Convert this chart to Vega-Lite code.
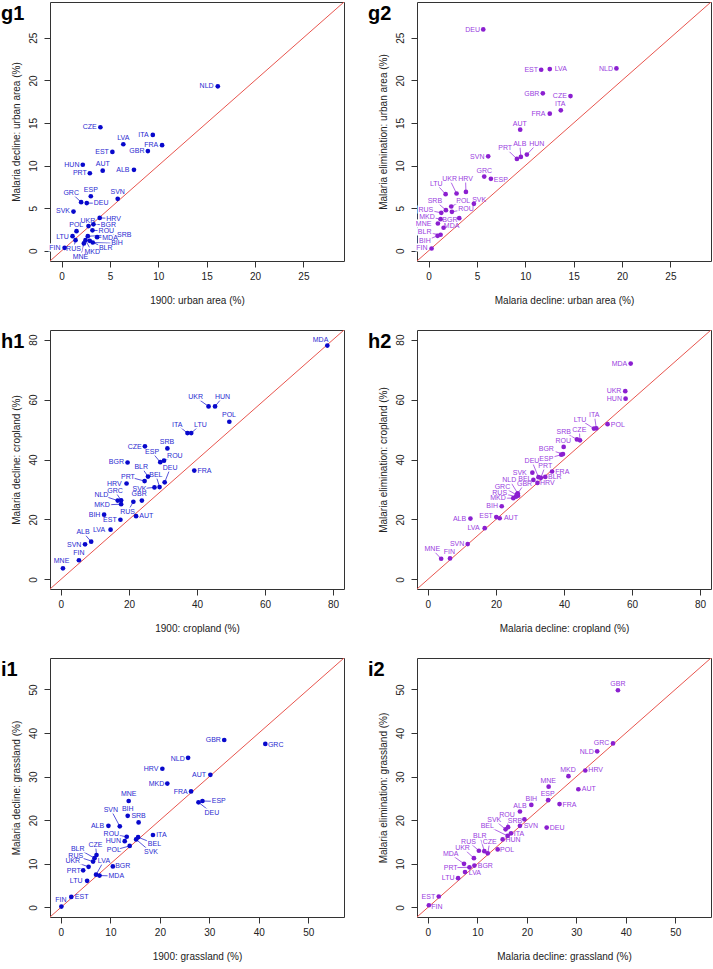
{
"$schema":"https://vega.github.io/schema/vega-lite/v6.json",
"padding":{"left":0,"top":1,"right":0,"bottom":0},
"autosize":{"type":"pad"},
"columns":2,
"spacing":{"row":23,"column":22},
"config":{
 "font":"Liberation Sans",
 "view":{"stroke":"#333","strokeWidth":1},
 "axis":{"grid":false,"domain":false,"tickColor":"#333","tickSize":6,"labelFontSize":10,"labelColor":"#222","titleFontSize":10,"titleFontWeight":"normal","titleColor":"#222","labelFont":"Liberation Sans","titleFont":"Liberation Sans"},
 "axisX":{"labelPadding":4,"titlePadding":14},
 "axisY":{"labelAngle":-90,"labelAlign":"center","labelBaseline":"bottom","labelPadding":6,"titlePadding":7},
 "title":{"fontSize":20,"fontWeight":"bold","anchor":"start","frame":"group","dx":-49,"offset":-22,"baseline":"bottom","color":"#000","font":"Liberation Sans"}
},
"datasets":{
"diag":[{"d":-10},{"d":100}],
"g1":[
{"c":"NLD","x":16.15,"y":19.3,"lx":14.99,"ly":19.31,"k":0},
{"c":"CZE","x":4.01,"y":14.5,"lx":2.91,"ly":14.52,"k":0},
{"c":"ITA","x":9.43,"y":13.6,"lx":8.47,"ly":13.63,"k":0},
{"c":"LVA","x":6.38,"y":12.5,"lx":6.38,"ly":13.2,"k":0},
{"c":"FRA","x":10.39,"y":12.4,"lx":9.26,"ly":12.42,"k":0},
{"c":"GBR","x":8.92,"y":11.7,"lx":7.78,"ly":11.68,"k":0},
{"c":"EST","x":5.25,"y":11.6,"lx":4.18,"ly":11.57,"k":0},
{"c":"HUN","x":2.19,"y":10.1,"lx":1.06,"ly":10.09,"k":0},
{"c":"AUT","x":4.25,"y":9.4,"lx":4.25,"ly":10.2,"k":0},
{"c":"PRT","x":2.92,"y":9.1,"lx":1.89,"ly":9.11,"k":0},
{"c":"ALB","x":7.48,"y":9.5,"lx":6.34,"ly":9.46,"k":0},
{"c":"ESP","x":3.02,"y":6.4,"lx":3.02,"ly":7.17,"k":0},
{"c":"SVN","x":5.8,"y":6.1,"lx":5.8,"ly":6.85,"k":0},
{"c":"GRC","x":2.02,"y":5.7,"lx":0.99,"ly":6.81,"k":1},
{"c":"DEU","x":2.6,"y":5.6,"lx":4.08,"ly":5.57,"k":1},
{"c":"SVK","x":1.23,"y":4.6,"lx":0.14,"ly":4.63,"k":0},
{"c":"HRV","x":3.94,"y":3.86,"lx":5.38,"ly":3.78,"k":1},
{"c":"BGR","x":3.29,"y":3.1,"lx":4.84,"ly":3.04,"k":1},
{"c":"UKR","x":2.78,"y":2.9,"lx":2.71,"ly":3.54,"k":0},
{"c":"POL","x":1.54,"y":2.3,"lx":1.51,"ly":3.04,"k":0},
{"c":"ROU","x":3.19,"y":2.4,"lx":4.63,"ly":2.34,"k":1},
{"c":"LTU","x":1.13,"y":1.71,"lx":0.1,"ly":1.67,"k":0},
{"c":"SRB","x":2.71,"y":1.71,"lx":6.48,"ly":1.91,"k":1},
{"c":"MDA","x":3.67,"y":1.6,"lx":5.01,"ly":1.52,"k":1},
{"c":"RUS","x":1.44,"y":1.25,"lx":1.23,"ly":0.23,"k":1},
{"c":"MKD","x":2.47,"y":1.25,"lx":3.16,"ly":-0.19,"k":1},
{"c":"BLR","x":2.91,"y":1.17,"lx":4.56,"ly":0.27,"k":1},
{"c":"BIH","x":3.22,"y":0.97,"lx":5.73,"ly":0.86,"k":1},
{"c":"MNE","x":2.3,"y":0.86,"lx":1.95,"ly":-0.7,"k":1},
{"c":"FIN","x":0.31,"y":0.35,"lx":-0.69,"ly":0.27,"k":0}
],
"g2":[
{"c":"DEU","x":5.65,"y":25.98,"lx":4.55,"ly":25.94,"k":0},
{"c":"EST","x":11.64,"y":21.25,"lx":10.61,"ly":21.17,"k":0},
{"c":"LVA","x":12.53,"y":21.33,"lx":13.67,"ly":21.29,"k":0},
{"c":"NLD","x":19.42,"y":21.4,"lx":18.35,"ly":21.37,"k":0},
{"c":"GBR","x":11.81,"y":18.48,"lx":10.67,"ly":18.44,"k":0},
{"c":"CZE","x":14.67,"y":18.16,"lx":13.57,"ly":18.13,"k":0},
{"c":"ITA","x":13.67,"y":16.48,"lx":13.6,"ly":17.19,"k":0},
{"c":"FRA","x":12.53,"y":16.09,"lx":11.36,"ly":16.05,"k":0},
{"c":"AUT","x":9.47,"y":14.22,"lx":9.43,"ly":14.92,"k":0},
{"c":"PRT","x":9.13,"y":10.78,"lx":7.92,"ly":12.11,"k":1},
{"c":"ALB","x":9.54,"y":11.02,"lx":9.43,"ly":12.5,"k":1},
{"c":"HUN","x":10.16,"y":11.29,"lx":11.19,"ly":12.54,"k":1},
{"c":"SVN","x":6.16,"y":11.09,"lx":5.03,"ly":11.05,"k":0},
{"c":"GRC","x":5.75,"y":8.71,"lx":5.75,"ly":9.41,"k":0},
{"c":"ESP","x":6.44,"y":8.44,"lx":7.47,"ly":8.36,"k":0},
{"c":"LTU","x":1.76,"y":6.64,"lx":0.79,"ly":7.85,"k":1},
{"c":"UKR","x":2.89,"y":6.72,"lx":2.17,"ly":8.4,"k":1},
{"c":"HRV","x":3.86,"y":6.91,"lx":3.82,"ly":8.4,"k":1},
{"c":"SRB","x":1.79,"y":4.77,"lx":0.65,"ly":5.9,"k":1},
{"c":"POL","x":2.34,"y":5.2,"lx":3.58,"ly":5.9,"k":1},
{"c":"SVK","x":4.68,"y":5.51,"lx":5.23,"ly":5.94,"k":1},
{"c":"RUS","x":1.31,"y":4.45,"lx":-0.28,"ly":4.84,"k":1},
{"c":"ROU","x":2.41,"y":4.57,"lx":3.86,"ly":4.88,"k":1},
{"c":"MKD","x":1.24,"y":3.71,"lx":-0.17,"ly":4.02,"k":1},
{"c":"BGR","x":3.17,"y":3.83,"lx":2.2,"ly":3.67,"k":0},
{"c":"MNE","x":0.96,"y":3.2,"lx":-0.52,"ly":3.2,"k":0},
{"c":"MDA","x":1.55,"y":2.7,"lx":2.38,"ly":2.89,"k":0},
{"c":"BLR","x":1.24,"y":1.88,"lx":-0.41,"ly":2.15,"k":1},
{"c":"BIH","x":0.93,"y":1.76,"lx":-0.38,"ly":1.17,"k":1},
{"c":"FIN","x":0.31,"y":0.27,"lx":-0.69,"ly":0.27,"k":0}
],
"h1":[
{"c":"UKR","x":43.4,"y":57.7,"lx":39.6,"ly":60.8,"k":1},
{"c":"HUN","x":45.3,"y":57.7,"lx":47.5,"ly":60.8,"k":1},
{"c":"POL","x":49.5,"y":52.6,"lx":49.4,"ly":54.7,"k":0},
{"c":"ITA","x":37.2,"y":48.8,"lx":34.2,"ly":51.6,"k":1},
{"c":"LTU","x":38.3,"y":48.8,"lx":41.0,"ly":51.6,"k":1},
{"c":"CZE","x":24.7,"y":44.4,"lx":21.7,"ly":44.3,"k":0},
{"c":"SRB","x":31.3,"y":43.7,"lx":31.2,"ly":45.8,"k":0},
{"c":"ESP","x":29.2,"y":39.1,"lx":26.8,"ly":42.4,"k":1},
{"c":"ROU","x":30.3,"y":39.6,"lx":33.5,"ly":41.3,"k":1},
{"c":"BGR","x":19.6,"y":39.0,"lx":16.3,"ly":39.0,"k":0},
{"c":"FRA","x":39.2,"y":36.3,"lx":42.2,"ly":36.1,"k":0},
{"c":"BLR","x":25.6,"y":34.3,"lx":23.6,"ly":37.6,"k":1},
{"c":"PRT","x":24.6,"y":32.8,"lx":19.7,"ly":34.3,"k":1},
{"c":"DEU","x":30.5,"y":32.4,"lx":32.1,"ly":37.0,"k":1},
{"c":"BEL","x":29.0,"y":30.8,"lx":27.9,"ly":34.9,"k":1},
{"c":"SVK","x":27.5,"y":30.7,"lx":23.1,"ly":30.2,"k":1},
{"c":"HRV","x":19.3,"y":32.0,"lx":15.7,"ly":31.9,"k":0},
{"c":"NLD","x":16.7,"y":26.3,"lx":11.9,"ly":28.1,"k":1},
{"c":"GRC","x":17.7,"y":26.4,"lx":15.9,"ly":29.4,"k":1},
{"c":"MKD","x":17.7,"y":25.1,"lx":12.1,"ly":24.8,"k":1},
{"c":"GBR","x":23.8,"y":26.3,"lx":23.0,"ly":28.6,"k":0},
{"c":"RUS","x":21.3,"y":25.9,"lx":19.6,"ly":22.6,"k":1},
{"c":"BIH","x":12.7,"y":21.6,"lx":9.9,"ly":21.6,"k":0},
{"c":"AUT","x":22.1,"y":21.1,"lx":25.1,"ly":21.1,"k":0},
{"c":"EST","x":17.5,"y":19.9,"lx":14.4,"ly":19.9,"k":0},
{"c":"LVA","x":14.6,"y":16.6,"lx":11.2,"ly":16.4,"k":0},
{"c":"ALB","x":8.9,"y":12.6,"lx":6.5,"ly":15.7,"k":1},
{"c":"SVN","x":7.1,"y":11.7,"lx":3.9,"ly":11.4,"k":0},
{"c":"FIN","x":5.3,"y":6.4,"lx":5.3,"ly":8.8,"k":0},
{"c":"MNE","x":0.6,"y":3.7,"lx":0.2,"ly":6.0,"k":0},
{"c":"MDA","x":78.3,"y":78.0,"lx":76.3,"ly":80.0,"k":0}
],
"h2":[
{"c":"MDA","x":59.6,"y":72.0,"lx":56.3,"ly":72.0,"k":0},
{"c":"UKR","x":58.0,"y":62.8,"lx":54.7,"ly":62.8,"k":0},
{"c":"HUN","x":58.1,"y":60.3,"lx":54.8,"ly":60.3,"k":0},
{"c":"ITA","x":49.5,"y":50.4,"lx":48.9,"ly":55.0,"k":1},
{"c":"LTU","x":48.8,"y":50.3,"lx":44.7,"ly":53.3,"k":1},
{"c":"POL","x":52.8,"y":51.8,"lx":55.8,"ly":51.6,"k":0},
{"c":"SRB","x":43.8,"y":46.7,"lx":39.9,"ly":49.2,"k":1},
{"c":"CZE","x":44.7,"y":46.4,"lx":44.5,"ly":49.8,"k":1},
{"c":"ROU","x":39.9,"y":44.2,"lx":39.8,"ly":46.1,"k":0},
{"c":"BGR","x":39.7,"y":41.8,"lx":34.8,"ly":43.6,"k":1},
{"c":"ESP","x":39.2,"y":41.6,"lx":34.8,"ly":40.2,"k":1},
{"c":"DEU","x":32.5,"y":34.1,"lx":30.6,"ly":39.4,"k":1},
{"c":"PRT","x":33.2,"y":33.9,"lx":34.5,"ly":37.9,"k":1},
{"c":"SVK","x":30.7,"y":35.6,"lx":27.0,"ly":35.6,"k":0},
{"c":"FRA","x":36.5,"y":36.0,"lx":39.5,"ly":35.9,"k":0},
{"c":"BEL","x":31.0,"y":33.2,"lx":28.5,"ly":33.6,"k":0},
{"c":"BLR","x":34.5,"y":34.2,"lx":37.3,"ly":34.3,"k":0},
{"c":"NLD","x":26.4,"y":28.7,"lx":23.9,"ly":33.3,"k":1},
{"c":"GBR","x":26.2,"y":28.4,"lx":28.4,"ly":31.9,"k":1},
{"c":"HRV","x":32.2,"y":32.2,"lx":35.1,"ly":32.0,"k":0},
{"c":"GRC","x":26.5,"y":27.9,"lx":21.9,"ly":30.9,"k":1},
{"c":"RUS","x":25.9,"y":27.6,"lx":21.1,"ly":28.9,"k":1},
{"c":"MKD","x":25.1,"y":27.1,"lx":20.6,"ly":27.1,"k":1},
{"c":"BIH","x":21.7,"y":24.4,"lx":18.9,"ly":24.4,"k":0},
{"c":"EST","x":20.1,"y":20.8,"lx":17.1,"ly":21.0,"k":0},
{"c":"AUT","x":21.1,"y":20.4,"lx":24.4,"ly":20.4,"k":0},
{"c":"ALB","x":12.5,"y":20.3,"lx":9.3,"ly":20.1,"k":0},
{"c":"LVA","x":16.7,"y":17.1,"lx":13.4,"ly":17.0,"k":0},
{"c":"SVN","x":11.7,"y":11.8,"lx":8.6,"ly":11.9,"k":0},
{"c":"MNE","x":3.9,"y":6.9,"lx":1.3,"ly":10.0,"k":1},
{"c":"FIN","x":6.5,"y":7.0,"lx":6.3,"ly":9.2,"k":0}
],
"i1":[
{"c":"GBR","x":33.0,"y":38.4,"lx":30.8,"ly":38.3,"k":0},
{"c":"GRC","x":41.3,"y":37.5,"lx":43.4,"ly":37.3,"k":0},
{"c":"NLD","x":25.7,"y":34.3,"lx":23.6,"ly":34.1,"k":0},
{"c":"HRV","x":20.5,"y":31.8,"lx":18.2,"ly":31.7,"k":0},
{"c":"AUT","x":30.2,"y":30.4,"lx":27.9,"ly":30.3,"k":0},
{"c":"MKD","x":21.5,"y":28.4,"lx":19.3,"ly":28.4,"k":0},
{"c":"FRA","x":26.3,"y":26.6,"lx":24.2,"ly":26.5,"k":0},
{"c":"ESP","x":28.6,"y":24.4,"lx":31.9,"ly":24.3,"k":1},
{"c":"DEU","x":27.8,"y":24.1,"lx":30.5,"ly":21.7,"k":1},
{"c":"MNE","x":13.7,"y":24.4,"lx":13.7,"ly":25.9,"k":0},
{"c":"BIH","x":13.5,"y":21.0,"lx":13.5,"ly":22.5,"k":0},
{"c":"SRB","x":15.7,"y":19.5,"lx":15.7,"ly":20.9,"k":0},
{"c":"ALB","x":9.6,"y":18.7,"lx":7.4,"ly":18.7,"k":0},
{"c":"SVN","x":11.9,"y":18.6,"lx":10.1,"ly":22.4,"k":1},
{"c":"ITA","x":18.6,"y":16.6,"lx":20.3,"ly":16.6,"k":0},
{"c":"ROU","x":13.3,"y":16.2,"lx":10.2,"ly":16.8,"k":1},
{"c":"HUN","x":12.9,"y":15.2,"lx":10.6,"ly":15.2,"k":0},
{"c":"BEL","x":15.6,"y":16.1,"lx":18.9,"ly":14.6,"k":1},
{"c":"SVK","x":15.2,"y":15.6,"lx":18.2,"ly":12.7,"k":1},
{"c":"POL","x":13.9,"y":14.1,"lx":10.7,"ly":13.1,"k":1},
{"c":"CZE","x":7.2,"y":12.0,"lx":7.0,"ly":14.4,"k":1},
{"c":"BLR","x":6.8,"y":11.3,"lx":3.4,"ly":13.5,"k":1},
{"c":"RUS","x":6.5,"y":10.5,"lx":3.0,"ly":11.8,"k":1},
{"c":"UKR","x":5.6,"y":9.3,"lx":2.4,"ly":10.6,"k":1},
{"c":"BGR","x":10.5,"y":9.4,"lx":12.5,"ly":9.5,"k":0},
{"c":"PRT","x":4.5,"y":8.5,"lx":2.6,"ly":8.4,"k":0},
{"c":"LVA","x":7.1,"y":7.5,"lx":8.7,"ly":10.7,"k":1},
{"c":"MDA","x":7.8,"y":7.3,"lx":11.2,"ly":7.2,"k":1},
{"c":"LTU","x":5.3,"y":6.1,"lx":3.1,"ly":6.0,"k":0},
{"c":"EST","x":2.1,"y":2.4,"lx":4.2,"ly":2.3,"k":0},
{"c":"FIN","x":0.1,"y":0.2,"lx":0.0,"ly":1.7,"k":0}
],
"i2":[
{"c":"GBR","x":38.4,"y":49.8,"lx":38.4,"ly":51.2,"k":0},
{"c":"GRC","x":37.4,"y":37.6,"lx":35.1,"ly":37.6,"k":0},
{"c":"NLD","x":34.2,"y":35.8,"lx":32.1,"ly":35.7,"k":0},
{"c":"HRV","x":31.8,"y":31.4,"lx":33.9,"ly":31.4,"k":0},
{"c":"MKD","x":28.4,"y":30.1,"lx":28.3,"ly":31.6,"k":0},
{"c":"AUT","x":30.4,"y":27.1,"lx":32.5,"ly":27.1,"k":0},
{"c":"MNE","x":24.4,"y":27.7,"lx":24.3,"ly":28.9,"k":0},
{"c":"ESP","x":24.3,"y":24.6,"lx":24.2,"ly":26.0,"k":0},
{"c":"FRA","x":26.6,"y":23.7,"lx":28.6,"ly":23.6,"k":0},
{"c":"BIH","x":20.9,"y":23.5,"lx":20.9,"ly":24.9,"k":0},
{"c":"ALB","x":18.6,"y":22.0,"lx":18.6,"ly":23.3,"k":0},
{"c":"ROU","x":16.2,"y":18.4,"lx":16.0,"ly":21.3,"k":1},
{"c":"SRB","x":19.5,"y":20.2,"lx":17.6,"ly":19.9,"k":1},
{"c":"SVN","x":18.6,"y":18.7,"lx":20.8,"ly":18.6,"k":0},
{"c":"DEU","x":24.0,"y":18.3,"lx":26.1,"ly":18.3,"k":0},
{"c":"SVK","x":15.7,"y":17.9,"lx":13.4,"ly":20.1,"k":1},
{"c":"BEL","x":16.1,"y":16.4,"lx":12.0,"ly":18.7,"k":1},
{"c":"ITA","x":16.8,"y":17.0,"lx":18.4,"ly":16.9,"k":0},
{"c":"HUN","x":15.1,"y":15.6,"lx":17.2,"ly":15.5,"k":0},
{"c":"POL","x":14.1,"y":13.3,"lx":16.0,"ly":13.2,"k":0},
{"c":"BLR","x":11.4,"y":12.9,"lx":10.5,"ly":16.4,"k":1},
{"c":"RUS","x":10.3,"y":13.0,"lx":8.2,"ly":15.1,"k":1},
{"c":"CZE","x":12.1,"y":12.4,"lx":12.5,"ly":15.1,"k":1},
{"c":"UKR","x":9.3,"y":11.3,"lx":7.0,"ly":13.7,"k":1},
{"c":"MDA","x":7.3,"y":10.0,"lx":4.6,"ly":12.2,"k":1},
{"c":"PRT","x":8.4,"y":9.2,"lx":4.6,"ly":9.1,"k":1},
{"c":"BGR","x":9.4,"y":9.6,"lx":11.6,"ly":9.4,"k":0},
{"c":"LVA","x":7.5,"y":8.1,"lx":9.5,"ly":8.0,"k":0},
{"c":"LTU","x":6.1,"y":6.7,"lx":4.1,"ly":6.7,"k":0},
{"c":"EST","x":2.2,"y":2.5,"lx":0.1,"ly":2.5,"k":0},
{"c":"FIN","x":0.2,"y":0.5,"lx":1.8,"ly":0.2,"k":0}
]
},
"concat":[
{"title":"g1","width":294,"height":259,"data":{"name":"g1"},
 "layer":[
 {"transform":[{"filter":"datum.k==1"}],"mark":{"type":"rule","color":"#2a2ad0","strokeWidth":0.8},"encoding":{"x":{"field":"x","type":"quantitative","scale":{"domain":[-1.2,29.2],"nice":false,"zero":false},"axis":{"title":"1900: urban area (%)","values":[0,5,10,15,20,25]}},"y":{"field":"y","type":"quantitative","scale":{"domain":[-1.2,29.2],"nice":false,"zero":false},"axis":{"title":"Malaria decline: urban area (%)","values":[0,5,10,15,20,25]}},"x2":{"field":"lx"},"y2":{"field":"ly"}}},
 {"mark":{"type":"text","fontSize":7,"fill":"white","stroke":"white","strokeWidth":3},"encoding":{"x":{"field":"lx","type":"quantitative","scale":{"domain":[-1.2,29.2],"nice":false,"zero":false},"axis":{"title":"1900: urban area (%)","values":[0,5,10,15,20,25]}},"y":{"field":"ly","type":"quantitative","scale":{"domain":[-1.2,29.2],"nice":false,"zero":false},"axis":{"title":"Malaria decline: urban area (%)","values":[0,5,10,15,20,25]}},"text":{"field":"c","type":"nominal"}}},
 {"data":{"name":"diag"},"mark":{"type":"line","color":"#e8554e","strokeWidth":1,"clip":true},"encoding":{"x":{"field":"d","type":"quantitative","scale":{"domain":[-1.2,29.2],"nice":false,"zero":false},"axis":{"title":"1900: urban area (%)","values":[0,5,10,15,20,25]}},"y":{"field":"d","type":"quantitative","scale":{"domain":[-1.2,29.2],"nice":false,"zero":false},"axis":{"title":"Malaria decline: urban area (%)","values":[0,5,10,15,20,25]}}}},
 {"mark":{"type":"text","fontSize":7,"color":"#2a2ad0"},"encoding":{"x":{"field":"lx","type":"quantitative","scale":{"domain":[-1.2,29.2],"nice":false,"zero":false},"axis":{"title":"1900: urban area (%)","values":[0,5,10,15,20,25]}},"y":{"field":"ly","type":"quantitative","scale":{"domain":[-1.2,29.2],"nice":false,"zero":false},"axis":{"title":"Malaria decline: urban area (%)","values":[0,5,10,15,20,25]}},"text":{"field":"c","type":"nominal"}}},
 {"mark":{"type":"circle","size":22,"opacity":1,"color":"#0808cc"},"encoding":{"x":{"field":"x","type":"quantitative","scale":{"domain":[-1.2,29.2],"nice":false,"zero":false},"axis":{"title":"1900: urban area (%)","values":[0,5,10,15,20,25]}},"y":{"field":"y","type":"quantitative","scale":{"domain":[-1.2,29.2],"nice":false,"zero":false},"axis":{"title":"Malaria decline: urban area (%)","values":[0,5,10,15,20,25]}}}}
 ]},
{"title":"g2","width":294,"height":259,"data":{"name":"g2"},
 "layer":[
 {"transform":[{"filter":"datum.k==1"}],"mark":{"type":"rule","color":"#9a40e0","strokeWidth":0.8},"encoding":{"x":{"field":"x","type":"quantitative","scale":{"domain":[-1.2,29.2],"nice":false,"zero":false},"axis":{"title":"Malaria decline: urban area (%)","values":[0,5,10,15,20,25]}},"y":{"field":"y","type":"quantitative","scale":{"domain":[-1.2,29.2],"nice":false,"zero":false},"axis":{"title":"Malaria elimination: urban area (%)","values":[0,5,10,15,20,25]}},"x2":{"field":"lx"},"y2":{"field":"ly"}}},
 {"mark":{"type":"text","fontSize":7,"fill":"white","stroke":"white","strokeWidth":3},"encoding":{"x":{"field":"lx","type":"quantitative","scale":{"domain":[-1.2,29.2],"nice":false,"zero":false},"axis":{"title":"Malaria decline: urban area (%)","values":[0,5,10,15,20,25]}},"y":{"field":"ly","type":"quantitative","scale":{"domain":[-1.2,29.2],"nice":false,"zero":false},"axis":{"title":"Malaria elimination: urban area (%)","values":[0,5,10,15,20,25]}},"text":{"field":"c","type":"nominal"}}},
 {"data":{"name":"diag"},"mark":{"type":"line","color":"#e8554e","strokeWidth":1,"clip":true},"encoding":{"x":{"field":"d","type":"quantitative","scale":{"domain":[-1.2,29.2],"nice":false,"zero":false},"axis":{"title":"Malaria decline: urban area (%)","values":[0,5,10,15,20,25]}},"y":{"field":"d","type":"quantitative","scale":{"domain":[-1.2,29.2],"nice":false,"zero":false},"axis":{"title":"Malaria elimination: urban area (%)","values":[0,5,10,15,20,25]}}}},
 {"mark":{"type":"text","fontSize":7,"color":"#9a40e0"},"encoding":{"x":{"field":"lx","type":"quantitative","scale":{"domain":[-1.2,29.2],"nice":false,"zero":false},"axis":{"title":"Malaria decline: urban area (%)","values":[0,5,10,15,20,25]}},"y":{"field":"ly","type":"quantitative","scale":{"domain":[-1.2,29.2],"nice":false,"zero":false},"axis":{"title":"Malaria elimination: urban area (%)","values":[0,5,10,15,20,25]}},"text":{"field":"c","type":"nominal"}}},
 {"mark":{"type":"circle","size":22,"opacity":1,"color":"#8b1fd0"},"encoding":{"x":{"field":"x","type":"quantitative","scale":{"domain":[-1.2,29.2],"nice":false,"zero":false},"axis":{"title":"Malaria decline: urban area (%)","values":[0,5,10,15,20,25]}},"y":{"field":"y","type":"quantitative","scale":{"domain":[-1.2,29.2],"nice":false,"zero":false},"axis":{"title":"Malaria elimination: urban area (%)","values":[0,5,10,15,20,25]}}}}
 ]},
{"title":"h1","width":294,"height":259,"data":{"name":"h1"},
 "layer":[
 {"transform":[{"filter":"datum.k==1"}],"mark":{"type":"rule","color":"#2a2ad0","strokeWidth":0.8},"encoding":{"x":{"field":"x","type":"quantitative","scale":{"domain":[-3.2,83.2],"nice":false,"zero":false},"axis":{"title":"1900: cropland (%)","values":[0,20,40,60,80]}},"y":{"field":"y","type":"quantitative","scale":{"domain":[-3.2,83.2],"nice":false,"zero":false},"axis":{"title":"Malaria decline: cropland (%)","values":[0,20,40,60,80]}},"x2":{"field":"lx"},"y2":{"field":"ly"}}},
 {"mark":{"type":"text","fontSize":7,"fill":"white","stroke":"white","strokeWidth":3},"encoding":{"x":{"field":"lx","type":"quantitative","scale":{"domain":[-3.2,83.2],"nice":false,"zero":false},"axis":{"title":"1900: cropland (%)","values":[0,20,40,60,80]}},"y":{"field":"ly","type":"quantitative","scale":{"domain":[-3.2,83.2],"nice":false,"zero":false},"axis":{"title":"Malaria decline: cropland (%)","values":[0,20,40,60,80]}},"text":{"field":"c","type":"nominal"}}},
 {"data":{"name":"diag"},"mark":{"type":"line","color":"#e8554e","strokeWidth":1,"clip":true},"encoding":{"x":{"field":"d","type":"quantitative","scale":{"domain":[-3.2,83.2],"nice":false,"zero":false},"axis":{"title":"1900: cropland (%)","values":[0,20,40,60,80]}},"y":{"field":"d","type":"quantitative","scale":{"domain":[-3.2,83.2],"nice":false,"zero":false},"axis":{"title":"Malaria decline: cropland (%)","values":[0,20,40,60,80]}}}},
 {"mark":{"type":"text","fontSize":7,"color":"#2a2ad0"},"encoding":{"x":{"field":"lx","type":"quantitative","scale":{"domain":[-3.2,83.2],"nice":false,"zero":false},"axis":{"title":"1900: cropland (%)","values":[0,20,40,60,80]}},"y":{"field":"ly","type":"quantitative","scale":{"domain":[-3.2,83.2],"nice":false,"zero":false},"axis":{"title":"Malaria decline: cropland (%)","values":[0,20,40,60,80]}},"text":{"field":"c","type":"nominal"}}},
 {"mark":{"type":"circle","size":22,"opacity":1,"color":"#0808cc"},"encoding":{"x":{"field":"x","type":"quantitative","scale":{"domain":[-3.2,83.2],"nice":false,"zero":false},"axis":{"title":"1900: cropland (%)","values":[0,20,40,60,80]}},"y":{"field":"y","type":"quantitative","scale":{"domain":[-3.2,83.2],"nice":false,"zero":false},"axis":{"title":"Malaria decline: cropland (%)","values":[0,20,40,60,80]}}}}
 ]},
{"title":"h2","width":294,"height":259,"data":{"name":"h2"},
 "layer":[
 {"transform":[{"filter":"datum.k==1"}],"mark":{"type":"rule","color":"#9a40e0","strokeWidth":0.8},"encoding":{"x":{"field":"x","type":"quantitative","scale":{"domain":[-3.2,83.2],"nice":false,"zero":false},"axis":{"title":"Malaria decline: cropland (%)","values":[0,20,40,60,80]}},"y":{"field":"y","type":"quantitative","scale":{"domain":[-3.2,83.2],"nice":false,"zero":false},"axis":{"title":"Malaria elimination: cropland (%)","values":[0,20,40,60,80]}},"x2":{"field":"lx"},"y2":{"field":"ly"}}},
 {"mark":{"type":"text","fontSize":7,"fill":"white","stroke":"white","strokeWidth":3},"encoding":{"x":{"field":"lx","type":"quantitative","scale":{"domain":[-3.2,83.2],"nice":false,"zero":false},"axis":{"title":"Malaria decline: cropland (%)","values":[0,20,40,60,80]}},"y":{"field":"ly","type":"quantitative","scale":{"domain":[-3.2,83.2],"nice":false,"zero":false},"axis":{"title":"Malaria elimination: cropland (%)","values":[0,20,40,60,80]}},"text":{"field":"c","type":"nominal"}}},
 {"data":{"name":"diag"},"mark":{"type":"line","color":"#e8554e","strokeWidth":1,"clip":true},"encoding":{"x":{"field":"d","type":"quantitative","scale":{"domain":[-3.2,83.2],"nice":false,"zero":false},"axis":{"title":"Malaria decline: cropland (%)","values":[0,20,40,60,80]}},"y":{"field":"d","type":"quantitative","scale":{"domain":[-3.2,83.2],"nice":false,"zero":false},"axis":{"title":"Malaria elimination: cropland (%)","values":[0,20,40,60,80]}}}},
 {"mark":{"type":"text","fontSize":7,"color":"#9a40e0"},"encoding":{"x":{"field":"lx","type":"quantitative","scale":{"domain":[-3.2,83.2],"nice":false,"zero":false},"axis":{"title":"Malaria decline: cropland (%)","values":[0,20,40,60,80]}},"y":{"field":"ly","type":"quantitative","scale":{"domain":[-3.2,83.2],"nice":false,"zero":false},"axis":{"title":"Malaria elimination: cropland (%)","values":[0,20,40,60,80]}},"text":{"field":"c","type":"nominal"}}},
 {"mark":{"type":"circle","size":22,"opacity":1,"color":"#8b1fd0"},"encoding":{"x":{"field":"x","type":"quantitative","scale":{"domain":[-3.2,83.2],"nice":false,"zero":false},"axis":{"title":"Malaria decline: cropland (%)","values":[0,20,40,60,80]}},"y":{"field":"y","type":"quantitative","scale":{"domain":[-3.2,83.2],"nice":false,"zero":false},"axis":{"title":"Malaria elimination: cropland (%)","values":[0,20,40,60,80]}}}}
 ]},
{"title":"i1","width":294,"height":259,"data":{"name":"i1"},
 "layer":[
 {"transform":[{"filter":"datum.k==1"}],"mark":{"type":"rule","color":"#2a2ad0","strokeWidth":0.8},"encoding":{"x":{"field":"x","type":"quantitative","scale":{"domain":[-2.2,57.2],"nice":false,"zero":false},"axis":{"title":"1900: grassland (%)","values":[0,10,20,30,40,50]}},"y":{"field":"y","type":"quantitative","scale":{"domain":[-2.2,57.2],"nice":false,"zero":false},"axis":{"title":"Malaria decline: grassland (%)","values":[0,10,20,30,40,50]}},"x2":{"field":"lx"},"y2":{"field":"ly"}}},
 {"mark":{"type":"text","fontSize":7,"fill":"white","stroke":"white","strokeWidth":3},"encoding":{"x":{"field":"lx","type":"quantitative","scale":{"domain":[-2.2,57.2],"nice":false,"zero":false},"axis":{"title":"1900: grassland (%)","values":[0,10,20,30,40,50]}},"y":{"field":"ly","type":"quantitative","scale":{"domain":[-2.2,57.2],"nice":false,"zero":false},"axis":{"title":"Malaria decline: grassland (%)","values":[0,10,20,30,40,50]}},"text":{"field":"c","type":"nominal"}}},
 {"data":{"name":"diag"},"mark":{"type":"line","color":"#e8554e","strokeWidth":1,"clip":true},"encoding":{"x":{"field":"d","type":"quantitative","scale":{"domain":[-2.2,57.2],"nice":false,"zero":false},"axis":{"title":"1900: grassland (%)","values":[0,10,20,30,40,50]}},"y":{"field":"d","type":"quantitative","scale":{"domain":[-2.2,57.2],"nice":false,"zero":false},"axis":{"title":"Malaria decline: grassland (%)","values":[0,10,20,30,40,50]}}}},
 {"mark":{"type":"text","fontSize":7,"color":"#2a2ad0"},"encoding":{"x":{"field":"lx","type":"quantitative","scale":{"domain":[-2.2,57.2],"nice":false,"zero":false},"axis":{"title":"1900: grassland (%)","values":[0,10,20,30,40,50]}},"y":{"field":"ly","type":"quantitative","scale":{"domain":[-2.2,57.2],"nice":false,"zero":false},"axis":{"title":"Malaria decline: grassland (%)","values":[0,10,20,30,40,50]}},"text":{"field":"c","type":"nominal"}}},
 {"mark":{"type":"circle","size":22,"opacity":1,"color":"#0808cc"},"encoding":{"x":{"field":"x","type":"quantitative","scale":{"domain":[-2.2,57.2],"nice":false,"zero":false},"axis":{"title":"1900: grassland (%)","values":[0,10,20,30,40,50]}},"y":{"field":"y","type":"quantitative","scale":{"domain":[-2.2,57.2],"nice":false,"zero":false},"axis":{"title":"Malaria decline: grassland (%)","values":[0,10,20,30,40,50]}}}}
 ]},
{"title":"i2","width":294,"height":259,"data":{"name":"i2"},
 "layer":[
 {"transform":[{"filter":"datum.k==1"}],"mark":{"type":"rule","color":"#9a40e0","strokeWidth":0.8},"encoding":{"x":{"field":"x","type":"quantitative","scale":{"domain":[-2.2,57.2],"nice":false,"zero":false},"axis":{"title":"Malaria decline: grassland (%)","values":[0,10,20,30,40,50]}},"y":{"field":"y","type":"quantitative","scale":{"domain":[-2.2,57.2],"nice":false,"zero":false},"axis":{"title":"Malaria elimination: grassland (%)","values":[0,10,20,30,40,50]}},"x2":{"field":"lx"},"y2":{"field":"ly"}}},
 {"mark":{"type":"text","fontSize":7,"fill":"white","stroke":"white","strokeWidth":3},"encoding":{"x":{"field":"lx","type":"quantitative","scale":{"domain":[-2.2,57.2],"nice":false,"zero":false},"axis":{"title":"Malaria decline: grassland (%)","values":[0,10,20,30,40,50]}},"y":{"field":"ly","type":"quantitative","scale":{"domain":[-2.2,57.2],"nice":false,"zero":false},"axis":{"title":"Malaria elimination: grassland (%)","values":[0,10,20,30,40,50]}},"text":{"field":"c","type":"nominal"}}},
 {"data":{"name":"diag"},"mark":{"type":"line","color":"#e8554e","strokeWidth":1,"clip":true},"encoding":{"x":{"field":"d","type":"quantitative","scale":{"domain":[-2.2,57.2],"nice":false,"zero":false},"axis":{"title":"Malaria decline: grassland (%)","values":[0,10,20,30,40,50]}},"y":{"field":"d","type":"quantitative","scale":{"domain":[-2.2,57.2],"nice":false,"zero":false},"axis":{"title":"Malaria elimination: grassland (%)","values":[0,10,20,30,40,50]}}}},
 {"mark":{"type":"text","fontSize":7,"color":"#9a40e0"},"encoding":{"x":{"field":"lx","type":"quantitative","scale":{"domain":[-2.2,57.2],"nice":false,"zero":false},"axis":{"title":"Malaria decline: grassland (%)","values":[0,10,20,30,40,50]}},"y":{"field":"ly","type":"quantitative","scale":{"domain":[-2.2,57.2],"nice":false,"zero":false},"axis":{"title":"Malaria elimination: grassland (%)","values":[0,10,20,30,40,50]}},"text":{"field":"c","type":"nominal"}}},
 {"mark":{"type":"circle","size":22,"opacity":1,"color":"#8b1fd0"},"encoding":{"x":{"field":"x","type":"quantitative","scale":{"domain":[-2.2,57.2],"nice":false,"zero":false},"axis":{"title":"Malaria decline: grassland (%)","values":[0,10,20,30,40,50]}},"y":{"field":"y","type":"quantitative","scale":{"domain":[-2.2,57.2],"nice":false,"zero":false},"axis":{"title":"Malaria elimination: grassland (%)","values":[0,10,20,30,40,50]}}}}
 ]}
]
}
